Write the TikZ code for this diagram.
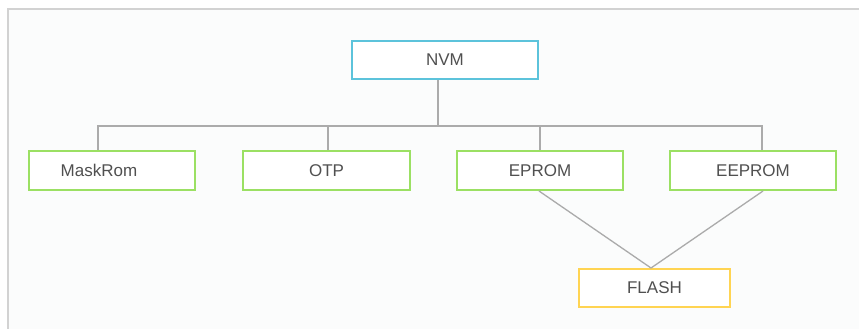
\documentclass[tikz,border=0pt]{standalone}
\usepackage{fontspec}
\setmainfont{Liberation Sans}
\definecolor{frameg}{HTML}{D2D2D2}
\definecolor{inner}{HTML}{FBFCFC}
\definecolor{nvmc}{HTML}{5CC3DB}
\definecolor{greenc}{HTML}{9BE063}
\definecolor{yellc}{HTML}{FFD452}
\definecolor{linec}{HTML}{ABABAB}
\definecolor{txtc}{HTML}{505050}
\begin{document}
\begin{tikzpicture}[x=1pt,y=-1pt,
  boxbase/.style={draw,line width=2pt,fill=white,inner sep=0pt,anchor=north west,
    text=txtc,font=\fontsize{17}{20}\selectfont},
  nvmbox/.style={boxbase,draw=nvmc},
  memb/.style={boxbase,draw=greenc},
  flashb/.style={boxbase,draw=yellc},
  conn/.style={draw=linec,line width=1.3pt}]
\useasboundingbox (0,0) rectangle (859,329);
\fill[white] (0,0) rectangle (859,329);
\fill[inner] (8,9) rectangle (859,329);
\draw[frameg,line width=2pt] (8,329) -- (8,9) -- (859,9);
\node[nvmbox,minimum width=186pt,minimum height=38pt] (nvm) at (351,40) {NVM};
\node[memb,minimum width=166pt,minimum height=39pt] (mask) at (28,150) {MaskRom\hspace*{26pt}};
\node[memb,minimum width=167pt,minimum height=39pt] (otp) at (242,150) {OTP};
\node[memb,minimum width=166pt,minimum height=39pt] (eprom) at (456,150) {EPROM};
\node[memb,minimum width=166pt,minimum height=39pt] (eeprom) at (669,150) {EEPROM};
\node[flashb,minimum width=151pt,minimum height=38pt] (flash) at (578,268) {FLASH};
\coordinate (bar) at (438,126);
\draw[conn] (nvm.south -| bar) -- (bar);
\draw[conn] (mask.north -| 98,0) |- (bar);
\draw[conn] (otp.north -| 328,0) -- (328,126);
\draw[conn] (eprom.north -| 540,0) -- (540,126);
\draw[conn] (eeprom.north -| 762,0) |- (bar);
\draw[conn] (eprom.south -| 539,0) -- (flash.north -| 651,0);
\draw[conn] (eeprom.south -| 763,0) -- (flash.north -| 651,0);
\end{tikzpicture}
\end{document}
